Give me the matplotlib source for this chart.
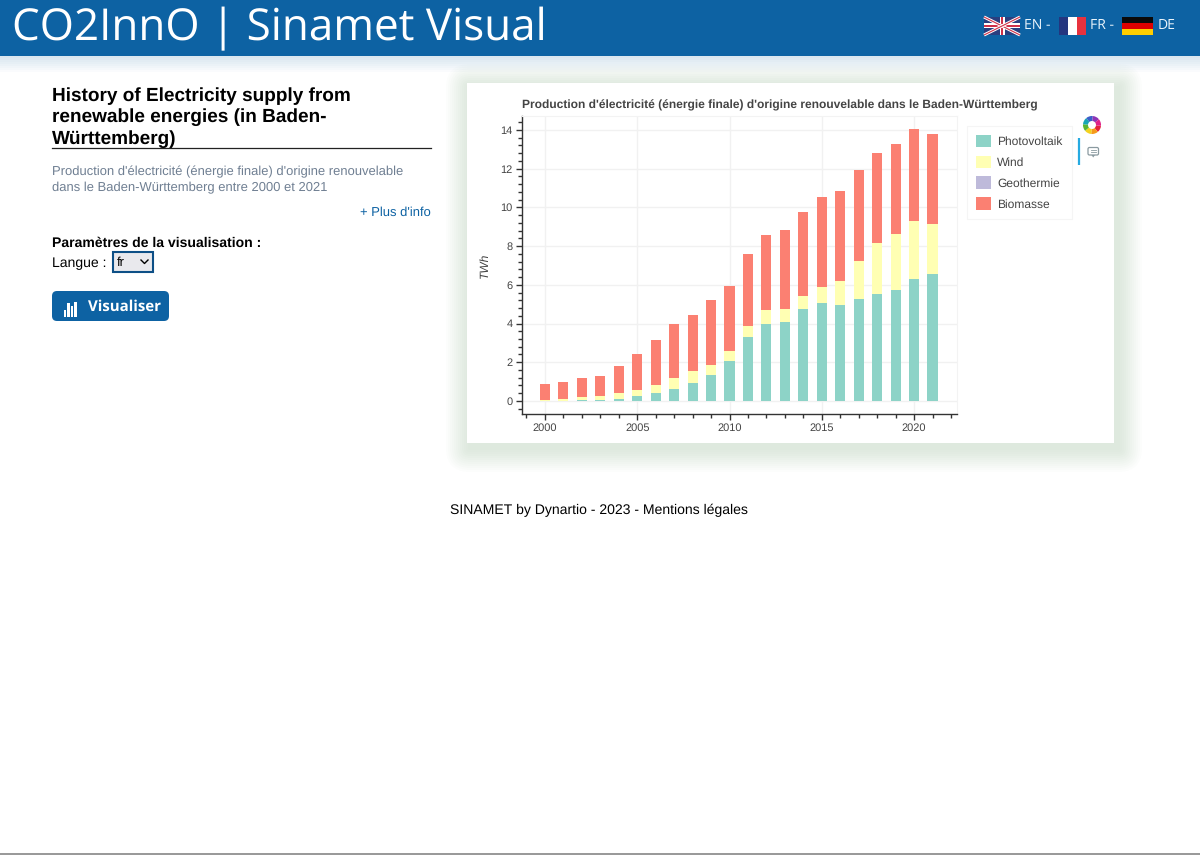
import matplotlib
matplotlib.use('Agg')
import matplotlib.pyplot as plt
from matplotlib.patches import Rectangle, FancyBboxPatch, Wedge, Polygon
from matplotlib.ticker import MultipleLocator
import numpy as np

years = list(range(2000, 2022))
photovoltaik = [0.01, 0.02, 0.04, 0.07, 0.11, 0.24, 0.43, 0.64, 0.93, 1.34, 2.05,
                3.29, 4.00, 4.07, 4.75, 5.05, 4.96, 5.27, 5.55, 5.73, 6.31, 6.55]
wind = [0.04, 0.07, 0.18, 0.21, 0.30, 0.31, 0.40, 0.57, 0.60, 0.54, 0.55,
        0.57, 0.69, 0.67, 0.69, 0.82, 1.22, 1.98, 2.60, 2.91, 2.97, 2.60]
geothermie = [0.0, 0.0, 0.0, 0.0, 0.0, 0.0, 0.0, 0.0, 0.0, 0.0, 0.0,
              0.0, 0.0, 0.0, 0.0, 0.0, 0.0, 0.0, 0.0, 0.0, 0.0, 0.0]
biomasse = [0.83, 0.91, 0.95, 1.03, 1.40, 1.86, 2.30, 2.77, 2.91, 3.32, 3.34,
            3.75, 3.89, 4.08, 4.32, 4.67, 4.65, 4.70, 4.68, 4.62, 4.77, 4.63]
series_names = ['Photovoltaik', 'Wind', 'Geothermie', 'Biomasse']
series_colors = ['#8dd3c7', '#ffffb3', '#bebada', '#fb8072']

W, H = 1200, 855
BLUE = '#0d62a3'
SANS = 'Liberation Sans'

plt.rcParams['text.hinting'] = 'no_hinting'
plt.rcParams['text.hinting_factor'] = 1

fig = plt.figure(figsize=(W / 100, H / 100), dpi=100, facecolor='white')

# page drawn in pixel coordinates
page = fig.add_axes([0, 0, 1, 1], zorder=0)
page.set_xlim(0, W)
page.set_ylim(H, 0)
page.axis('off')


def px(size):
    return size * 0.72


def rect(x0, y0, x1, y1, color, **kw):
    page.add_patch(Rectangle((x0, y0), x1 - x0, y1 - y0, facecolor=color, edgecolor='none', **kw))


# header
for i in range(8):
    rect(0, 56, W, 58 + 2 * i, '#3f7fb8', alpha=0.022)
rect(0, 0, W, 56, BLUE)
page.text(12, 28.5, 'CO2InnO | Sinamet Visual', color='white', family='Open Sans', fontsize=px(44.5),
          va='center', ha='left')

# flags
rect(984, 17, 1020, 35, '#2a3f7f')
for sign in (1, -1):
    page.plot([984, 1020], [26 - sign * 9, 26 + sign * 9], color='white', lw=2.2, solid_capstyle='butt')
    page.plot([984, 1020], [26 - sign * 9, 26 + sign * 9], color='#cf3048', lw=0.8, solid_capstyle='butt')
rect(984, 23.5, 1020, 28.5, 'white')
rect(999.5, 17, 1004.5, 35, 'white')
rect(984, 24.6, 1020, 27.4, '#cf3048')
rect(1000.6, 17, 1003.4, 35, '#cf3048')
rect(1059, 17, 1068, 35, '#24367f')
rect(1068, 17, 1077, 35, 'white')
rect(1077, 17, 1086, 35, '#e8323e')
rect(1122, 17, 1153, 23, '#0a0a0a')
rect(1122, 23, 1153, 29, '#dd0000')
rect(1122, 29, 1153, 35, '#ffce00')
page.text(1024.5, 25.5, 'EN -', color='#eaf4fb', family='Open Sans', fontsize=px(14), va='center')
page.text(1090, 25.5, 'FR -', color='#eaf4fb', family='Open Sans', fontsize=px(14), va='center')
page.text(1157.5, 25.5, 'DE', color='#eaf4fb', family='Open Sans', fontsize=px(14), va='center')

# left column
for y, line in zip((96, 117.5, 139), ('History of Electricity supply from',
                                      'renewable energies (in Baden-', 'Württemberg)')):
    page.text(52, y, line, family=SANS, weight='bold', fontsize=px(18.7), va='center', color='black')
page.plot([52, 431], [148.5, 148.5], color='#222222', lw=0.9)
page.text(52, 172, "Production d'électricité (énergie finale) d'origine renouvelable", family=SANS,
          fontsize=px(12.9), va='center', color='#6f7f92')
page.text(52, 188, 'dans le Baden-Württemberg entre 2000 et 2021', family=SANS,
          fontsize=px(12.9), va='center', color='#6f7f92')
page.text(431, 213, "+ Plus d'info", family=SANS, fontsize=px(12.9), va='center', ha='right', color=BLUE)
page.text(52, 243, 'Paramètres de la visualisation :', family=SANS, weight='bold', fontsize=px(14.4),
          va='center', color='black')
page.text(52, 263, 'Langue :', family=SANS, fontsize=px(14.4), va='center', color='black')

# select box
page.add_patch(Rectangle((113, 252), 40, 20, facecolor='#e9e9ed', edgecolor='#0d4f86', lw=1.5))
page.text(117, 263, 'fr', family=SANS, fontsize=px(12.5), va='center', color='black')
page.plot([141, 144.5, 148], [260, 263.5, 260], color='black', lw=1)

# button
page.add_patch(FancyBboxPatch((52, 291), 117, 30, boxstyle='round,pad=0,rounding_size=5',
                              facecolor=BLUE, edgecolor='none'))
for x0, top in zip((63.5, 67, 70.5, 74), (310, 303, 306, 302)):
    rect(x0, top, x0 + 2.6, 316.5, 'white')
page.text(88.5, 306.5, 'Visualiser', color='white', family='Open Sans', weight='bold', fontsize=px(14.5),
          va='center')

# footer
page.text(599, 510, 'SINAMET by Dynartio - 2023 - Mentions légales', family=SANS, fontsize=px(14.4),
          va='center', ha='center', color='black')
rect(0, 853, W, H, '#9a9a9a')

# card with soft shadow
for i in range(12, 0, -1):
    page.add_patch(FancyBboxPatch((470 - i, 88 - i), 648 + 2 * i, 360 + 2 * i,
                                  boxstyle='round,pad=0,rounding_size=%d' % (2 * i),
                                  facecolor='#7fb87f', edgecolor='none', alpha=0.02, mutation_scale=1))
    page.patches[-1].set_bounds(470 - 2 * i, 88 - 2 * i, 648 + 4 * i, 360 + 4 * i)
rect(467, 83, 1114, 443, 'white')

# toolbar
logo_colors = ['#e5243b', '#f59a1b', '#f4d21f', '#5cb531', '#19a6b5', '#3a5fc8', '#8e35b5', '#e0218a']
for i, c in enumerate(logo_colors):
    page.add_patch(Wedge((1092, 125), 9, i * 45 + 5, i * 45 + 50, width=5, facecolor=c, edgecolor='none'))
page.plot([1079.3, 1079.3], [138, 165], color='#26aae1', lw=1.6, solid_capstyle='butt')
page.add_patch(FancyBboxPatch((1088, 147.5), 10.5, 7.5, boxstyle='round,pad=0,rounding_size=1.5',
                              facecolor='white', edgecolor='#8a9aa0', lw=0.9))
page.add_patch(Polygon([[1091.5, 155], [1095, 155], [1093.2, 157.5]], facecolor='#8a9aa0', edgecolor='none'))
page.plot([1090.5, 1096], [150, 150], color='#8a9aa0', lw=0.6)
page.plot([1090.5, 1096], [152.3, 152.3], color='#8a9aa0', lw=0.6)

# chart
left, right, top, bottom = 521.7, 956.7, 116, 414.3
ax = fig.add_axes([left / W, 1 - bottom / H, (right - left) / W, (bottom - top) / H], zorder=2)
ax.patch.set_alpha(0)

bottoms = np.zeros(len(years))
for name, color, values in zip(series_names, series_colors, [photovoltaik, wind, geothermie, biomasse]):
    ax.bar(years, values, bottom=bottoms, width=0.55, color=color, label=name, zorder=3)
    bottoms = bottoms + np.array(values)

ax.set_xlim(1998.74, 2022.31)
ax.set_ylim(-0.69, 14.72)
ax.xaxis.set_major_locator(MultipleLocator(5))
ax.xaxis.set_minor_locator(MultipleLocator(1))
ax.yaxis.set_major_locator(MultipleLocator(2))
ax.yaxis.set_minor_locator(MultipleLocator(0.4))
ax.grid(True, which='major', color='#f1f1f1', lw=1, zorder=0)
ax.set_axisbelow(True)

for side in ('top', 'right'):
    ax.spines[side].set_color('#f3f3f3')
    ax.spines[side].set_linewidth(0.8)
for side in ('left', 'bottom'):
    ax.spines[side].set_color('#333333')
    ax.spines[side].set_linewidth(1)

ax.tick_params(which='major', direction='out', length=px(6), width=1, color='#333333', labelsize=px(11),
               labelcolor='#444444', pad=px(3))
ax.tick_params(which='minor', direction='out', length=px(4), width=1, color='#333333')
for lab in ax.get_xticklabels() + ax.get_yticklabels():
    lab.set_family(SANS)

ax.set_ylabel('TWh', family=SANS, style='italic', fontsize=px(12), color='#444444', labelpad=px(10))
ax.set_title("Production d'électricité (énergie finale) d'origine renouvelable dans le Baden-Württemberg",
             family=SANS, weight='bold', fontsize=px(11.6), color='#444444', loc='left', pad=px(8))

leg = fig.legend(*ax.get_legend_handles_labels(), loc='upper left',
                 bbox_to_anchor=(966.7 / W, 1 - 125.7 / H), borderaxespad=0,
                 prop={'family': SANS, 'size': px(11.8)}, frameon=True, fancybox=False,
                 edgecolor='#f5f5f5', facecolor='white', framealpha=1, labelcolor='#444444',
                 handlelength=1.3, handleheight=1.25, handletextpad=0.55, labelspacing=0.7,
                 borderpad=0.75)
leg.get_frame().set_linewidth(0.8)

fig.savefig('out.png', dpi=100)
